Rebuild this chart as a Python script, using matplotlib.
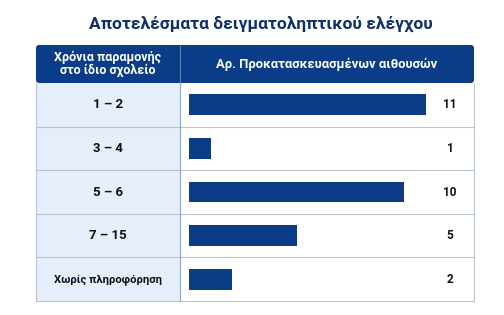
import numpy as np
import matplotlib.pyplot as plt
from matplotlib.patches import Rectangle, FancyBboxPatch

# data
categories = ["1 – 2", "3 – 4", "5 – 6", "7 – 15", "Χωρίς πληροφόρηση"]
counts = [11, 1, 10, 5, 2]
title = "Αποτελέσματα δειγματοληπτικού ελέγχου"
col_left = "Χρόνια παραμονής\nστο ίδιο σχολείο"
col_right = "Αρ. Προκατασκευασμένων αιθουσών"

navy = "#0b3c87"
title_col = "#0d2f6b"
light = "#e5eefa"
line_col = "#b9c3d2"

W, H = 504, 315
fig = plt.figure(figsize=(W / 100, H / 100), dpi=100)
fig.patch.set_facecolor("white")

# background axes in pixel units for the table frame
bg = fig.add_axes([0, 0, 1, 1])
bg.set_xlim(0, W)
bg.set_ylim(H, 0)
bg.axis("off")

x0, xs, x1 = 36, 180, 474
hy0, hy1 = 45, 83
y_end = 301
row_h = (y_end - hy1) / len(categories)

bg.text(261, 24, title, ha="center", va="center", fontsize=12.5,
        fontweight="bold", color=title_col, family="Roboto")

# header
bg.add_patch(FancyBboxPatch((x0, hy0), x1 - x0, hy1 - hy0,
                            boxstyle="round,pad=0,rounding_size=3",
                            fc=navy, ec="none"))
bg.plot([xs, xs], [hy0, hy1], color="#5c7fb5", lw=0.8)
bg.text((x0 + xs) / 2, (hy0 + hy1) / 2, col_left, ha="center", va="center",
        fontsize=9.0, fontweight="bold", color="white", family="Roboto",
        linespacing=1.0)
bg.text((xs + x1) / 2, (hy0 + hy1) / 2, col_right, ha="center", va="center",
        fontsize=9.4, fontweight="bold", color="white", family="Roboto")

# rows
for i, cat in enumerate(categories):
    top = hy1 + i * row_h
    bg.add_patch(Rectangle((x0, top), xs - x0, row_h, fc=light, ec="none"))
    fs = 9.5 if i < 4 else 8.1
    bg.text((x0 + xs) / 2, top + row_h / 2, cat, ha="center", va="center",
            fontsize=fs, fontweight="bold", color="#111111", family="Roboto")
    bg.plot([x0, x1], [top + row_h, top + row_h], color=line_col, lw=0.8)
bg.plot([x0, x0], [hy1, y_end], color=line_col, lw=0.8)
bg.plot([x1, x1], [hy1, y_end], color=line_col, lw=0.8)
bg.plot([xs, xs], [hy1, y_end], color="#8fa3c2", lw=0.8)

# bar axes over the right column
ax = fig.add_axes([xs / W, 1 - y_end / H, (x1 - xs) / W, (y_end - hy1) / H])
ax.patch.set_alpha(0)
px_per_unit = 21.5
left_pad = 9
span = (x1 - xs) / px_per_unit
ax.set_xlim(-left_pad / px_per_unit, span - left_pad / px_per_unit)
ax.set_ylim(len(categories) - 0.5, -0.5)
ypos = np.arange(len(categories))
ax.barh(ypos, counts, height=0.48, color=navy)
for y, v in zip(ypos, counts):
    ax.text(0.918, y, str(v), transform=ax.get_yaxis_transform(),
            ha="center", va="center", fontsize=8.5, fontweight="bold",
            color="#111111", family="Roboto")
ax.axis("off")

fig.savefig("out.png", dpi=100)
